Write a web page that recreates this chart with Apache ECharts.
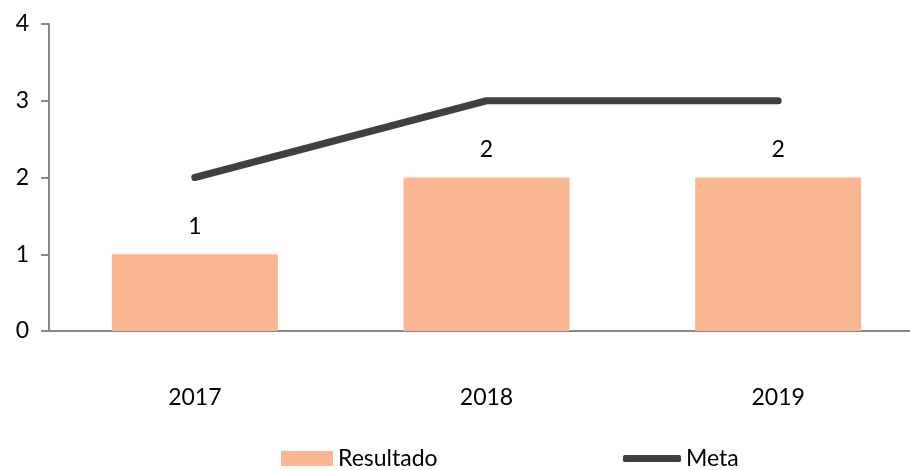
<!DOCTYPE html>
<html><head><meta charset="utf-8">
<script src="https://cdn.jsdelivr.net/npm/echarts@6/dist/echarts.min.js"></script>
<style>html,body{margin:0;padding:0;background:#fff}#c{width:910px;height:470px}</style>
</head><body><div id="c"></div>
<script>
const categories = ['2017', '2018', '2019'];
const resultado = [1, 2, 2];
const meta = [2, 3, 3];
const yTicks = [0, 1, 2, 3, 4];

const FONT = 'Lato';
const FS = 23;
const chart = echarts.init(document.getElementById('c'), null, {renderer: 'canvas'});
chart.setOption({
  animation: false,
  textStyle: {fontFamily: FONT},
  grid: {left: 49, width: 875, top: 24, bottom: 139, containLabel: false, outerBoundsMode: 'none'},
  legend: [{
    data: [{name: 'Resultado', icon: 'rect'}],
    left: 281, top: 447, itemWidth: 52, itemHeight: 15, padding: 0,
    textStyle: {fontFamily: FONT, fontSize: FS, color: '#000'}
  }, {
    data: [{name: 'Meta', icon: 'roundRect'}],
    left: 623, top: 447, itemWidth: 58, itemHeight: 7, padding: 0,
    textStyle: {fontFamily: FONT, fontSize: FS, color: '#000'}
  }],
  xAxis: {
    type: 'category', data: categories,
    axisTick: {show: false},
    axisLine: {lineStyle: {color: '#898989', width: 2}},
    axisLabel: {color: '#000', fontSize: FS, margin: 55, fontFamily: FONT}
  },
  yAxis: {
    type: 'value', min: yTicks[0], max: yTicks[yTicks.length - 1], interval: 1,
    splitLine: {show: false},
    axisLine: {show: true, lineStyle: {color: '#898989', width: 2}},
    axisTick: {show: true, length: 8, lineStyle: {color: '#898989', width: 2}},
    axisLabel: {color: '#000', fontSize: FS, margin: 20, fontFamily: FONT}
  },
  series: [{
    name: 'Resultado', type: 'bar', data: resultado, barWidth: 166,
    itemStyle: {color: '#F9B690'},
    label: {show: true, position: 'top', distance: 16, color: '#000', fontSize: FS, fontFamily: FONT}
  }, {
    name: 'Meta', type: 'line', data: meta, showSymbol: false, symbol: 'none',
    itemStyle: {color: '#404040'},
    lineStyle: {color: '#404040', width: 7, cap: 'round', join: 'round'}
  }]
});
</script></body></html>
